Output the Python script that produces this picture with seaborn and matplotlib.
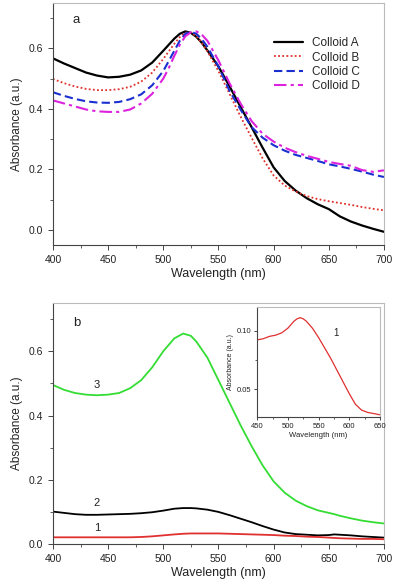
import numpy as np
import pandas as pd
import matplotlib
matplotlib.use('Agg')
import matplotlib.pyplot as plt
from matplotlib.ticker import MultipleLocator
import seaborn as sns

# panel a: four colloids
wl_a = [400, 410, 420, 430, 440, 450, 460, 470, 480, 490, 500, 505, 510, 515, 520,
        525, 530, 535, 540, 550, 560, 570, 580, 590, 600, 610, 620, 630, 640, 650,
        660, 670, 680, 690, 700]
colloid_a = [0.567, 0.55, 0.535, 0.52, 0.51, 0.504, 0.506, 0.513, 0.527, 0.553, 0.592, 0.612,
             0.632, 0.648, 0.656, 0.651, 0.638, 0.618, 0.593, 0.54, 0.475, 0.407, 0.34, 0.272,
             0.207, 0.162, 0.13, 0.105, 0.085, 0.069, 0.045, 0.028, 0.015, 0.004, -0.006]
colloid_b = [0.499, 0.485, 0.474, 0.466, 0.462, 0.462, 0.465, 0.473, 0.49, 0.52, 0.565, 0.59,
             0.615, 0.637, 0.652, 0.652, 0.64, 0.617, 0.59, 0.525, 0.45, 0.375, 0.305, 0.237,
             0.18, 0.147, 0.127, 0.112, 0.102, 0.095, 0.089, 0.083, 0.076, 0.07, 0.065]
colloid_c = [0.455, 0.443, 0.433, 0.425, 0.421, 0.42, 0.423, 0.432, 0.448, 0.478, 0.525, 0.558,
             0.592, 0.625, 0.648, 0.655, 0.648, 0.63, 0.605, 0.54, 0.46, 0.398, 0.34, 0.305,
             0.28, 0.262, 0.248, 0.238, 0.228, 0.217, 0.21, 0.202, 0.193, 0.183, 0.175]
colloid_d = [0.428, 0.418, 0.408, 0.398, 0.392, 0.39, 0.39, 0.398, 0.418, 0.45, 0.5, 0.535,
             0.575, 0.612, 0.64, 0.653, 0.656, 0.645, 0.625, 0.56, 0.485, 0.418, 0.36, 0.318,
             0.292, 0.272, 0.257, 0.245, 0.235, 0.225, 0.218, 0.212, 0.198, 0.192, 0.197]

# panel b: three samples
wl_b = [400, 410, 420, 430, 440, 450, 460, 470, 480, 490, 500, 510, 518, 525, 530, 540,
        550, 560, 570, 580, 590, 600, 610, 620, 630, 640, 650, 655, 660, 670, 680, 690, 700]
sample_1 = [0.021, 0.021, 0.021, 0.021, 0.021, 0.021, 0.021, 0.021, 0.022, 0.024, 0.027, 0.03,
            0.032, 0.033, 0.033, 0.033, 0.033, 0.032, 0.031, 0.03, 0.029, 0.028, 0.026, 0.025,
            0.023, 0.022, 0.02, 0.019, 0.018, 0.017, 0.016, 0.016, 0.015]
sample_2 = [0.101, 0.097, 0.093, 0.091, 0.091, 0.092, 0.093, 0.094, 0.096, 0.099, 0.104, 0.11,
            0.112, 0.112, 0.111, 0.107, 0.1, 0.09, 0.079, 0.068, 0.056, 0.045, 0.036, 0.031,
            0.029, 0.027, 0.028, 0.03, 0.029, 0.027, 0.024, 0.022, 0.02]
sample_3 = [0.495, 0.48, 0.47, 0.465, 0.463, 0.465, 0.47, 0.485, 0.51, 0.55, 0.6, 0.64,
            0.655, 0.648, 0.63, 0.58, 0.51, 0.44, 0.37, 0.305, 0.245, 0.195, 0.16, 0.135,
            0.118, 0.105, 0.097, 0.093, 0.088, 0.08, 0.073, 0.068, 0.064]

# inset: sample 1 zoomed
wl_in = [450, 460, 470, 480, 490, 500, 505, 510, 515, 520, 525, 530, 540, 550, 560, 570,
         580, 590, 600, 610, 620, 630, 640, 650]
inset_1 = [0.092, 0.093, 0.095, 0.096, 0.098, 0.102, 0.105, 0.108, 0.110, 0.111, 0.110, 0.108,
           0.102, 0.094, 0.085, 0.076, 0.066, 0.056, 0.046, 0.037, 0.032, 0.03, 0.029, 0.028]

sns.set_style('ticks')
plt.rcParams['font.family'] = ['Liberation Sans', 'DejaVu Sans']


def style_axes(ax, tick_size, major_len=3.5, minor_len=2):
    for side in ['left', 'bottom']:
        ax.spines[side].set_color('#444444')
    for side in ['top', 'right']:
        ax.spines[side].set_color('#bbbbbb')
    for sp in ax.spines.values():
        sp.set_linewidth(0.8)
    ax.tick_params(which='major', direction='out', length=major_len, width=0.7,
                   labelsize=tick_size, color='#444444', labelcolor='#222222')
    ax.tick_params(which='minor', direction='out', length=minor_len, width=0.6, color='#444444')


fig = plt.figure(figsize=(3.95, 5.85), dpi=100)

# ---- panel a
ax1 = fig.add_axes([0.134, 0.581, 0.838, 0.414])
sns.lineplot(x=wl_a, y=colloid_a, ax=ax1, color='black', lw=1.6, label='Colloid A')
sns.lineplot(x=wl_a, y=colloid_b, ax=ax1, color='#e0302a', lw=1.3, linestyle=(0, (1, 1.3)), label='Colloid B')
sns.lineplot(x=wl_a, y=colloid_c, ax=ax1, color='#1a2fd0', lw=1.5, linestyle=(0, (4, 2)), label='Colloid C')
sns.lineplot(x=wl_a, y=colloid_d, ax=ax1, color='#dd22dd', lw=1.5, linestyle=(0, (6, 2, 1.5, 2)), label='Colloid D')
ax1.set_xlim(400, 700)
ax1.set_ylim(-0.05, 0.75)
ax1.xaxis.set_major_locator(MultipleLocator(50))
ax1.xaxis.set_minor_locator(MultipleLocator(25))
ax1.yaxis.set_minor_locator(MultipleLocator(0.1))
ax1.set_yticks([0.0, 0.2, 0.4, 0.6])
ax1.set_xlabel('Wavelength (nm)', fontsize=9, color='#222222', labelpad=2)
ax1.set_ylabel('Absorbance (a.u.)', fontsize=8.5, color='#222222', labelpad=4)
style_axes(ax1, 7.5)
ax1.text(418, 0.685, 'a', fontsize=9.5, color='#222222')
ax1.legend(loc='upper left', bbox_to_anchor=(0.655, 0.878), borderaxespad=0, frameon=False,
           fontsize=8.5, handlelength=2.4, handletextpad=0.8, labelspacing=0.2)

# ---- panel b
ax2 = fig.add_axes([0.134, 0.070, 0.838, 0.412])
sns.lineplot(x=wl_b, y=sample_3, ax=ax2, color='#33dd33', lw=1.3)
sns.lineplot(x=wl_b, y=sample_2, ax=ax2, color='black', lw=1.3)
sns.lineplot(x=wl_b, y=sample_1, ax=ax2, color='#e03030', lw=1.3)
ax2.set_xlim(400, 700)
ax2.set_ylim(0, 0.75)
ax2.xaxis.set_major_locator(MultipleLocator(50))
ax2.xaxis.set_minor_locator(MultipleLocator(25))
ax2.yaxis.set_minor_locator(MultipleLocator(0.1))
ax2.set_yticks([0.0, 0.2, 0.4, 0.6])
ax2.set_xlabel('Wavelength (nm)', fontsize=9, color='#222222', labelpad=2)
ax2.set_ylabel('Absorbance (a.u.)', fontsize=8.5, color='#222222', labelpad=4)
style_axes(ax2, 7.5)
ax2.text(418, 0.68, 'b', fontsize=9.5, color='#222222')
ax2.text(437, 0.496, '3', fontsize=8, color='#222222', va='center')
ax2.text(437, 0.127, '2', fontsize=8, color='#222222', va='center')
ax2.text(437, 0.05, '1', fontsize=8, color='#222222', va='center')

# ---- inset
ax3 = fig.add_axes([0.651, 0.287, 0.311, 0.188])
sns.lineplot(x=wl_in, y=inset_1, ax=ax3, color='#e03030', lw=0.9)
ax3.set_xlim(450, 650)
ax3.set_ylim(0.026, 0.12)
ax3.xaxis.set_major_locator(MultipleLocator(50))
ax3.xaxis.set_minor_locator(MultipleLocator(25))
ax3.set_yticks([0.05, 0.10])
ax3.yaxis.set_minor_locator(MultipleLocator(0.025))
ax3.set_xlabel('Wavelength (nm)', fontsize=5.5, color='#222222', labelpad=1.5)
ax3.set_ylabel('Absorbance (a.u.)', fontsize=5, color='#222222', labelpad=2)
style_axes(ax3, 5.5, major_len=2.5, minor_len=1.5)
ax3.tick_params(pad=1.5)
ax3.text(574, 0.098, '1', fontsize=7, color='#222222', va='center')

fig.savefig('out.png', dpi=100)
